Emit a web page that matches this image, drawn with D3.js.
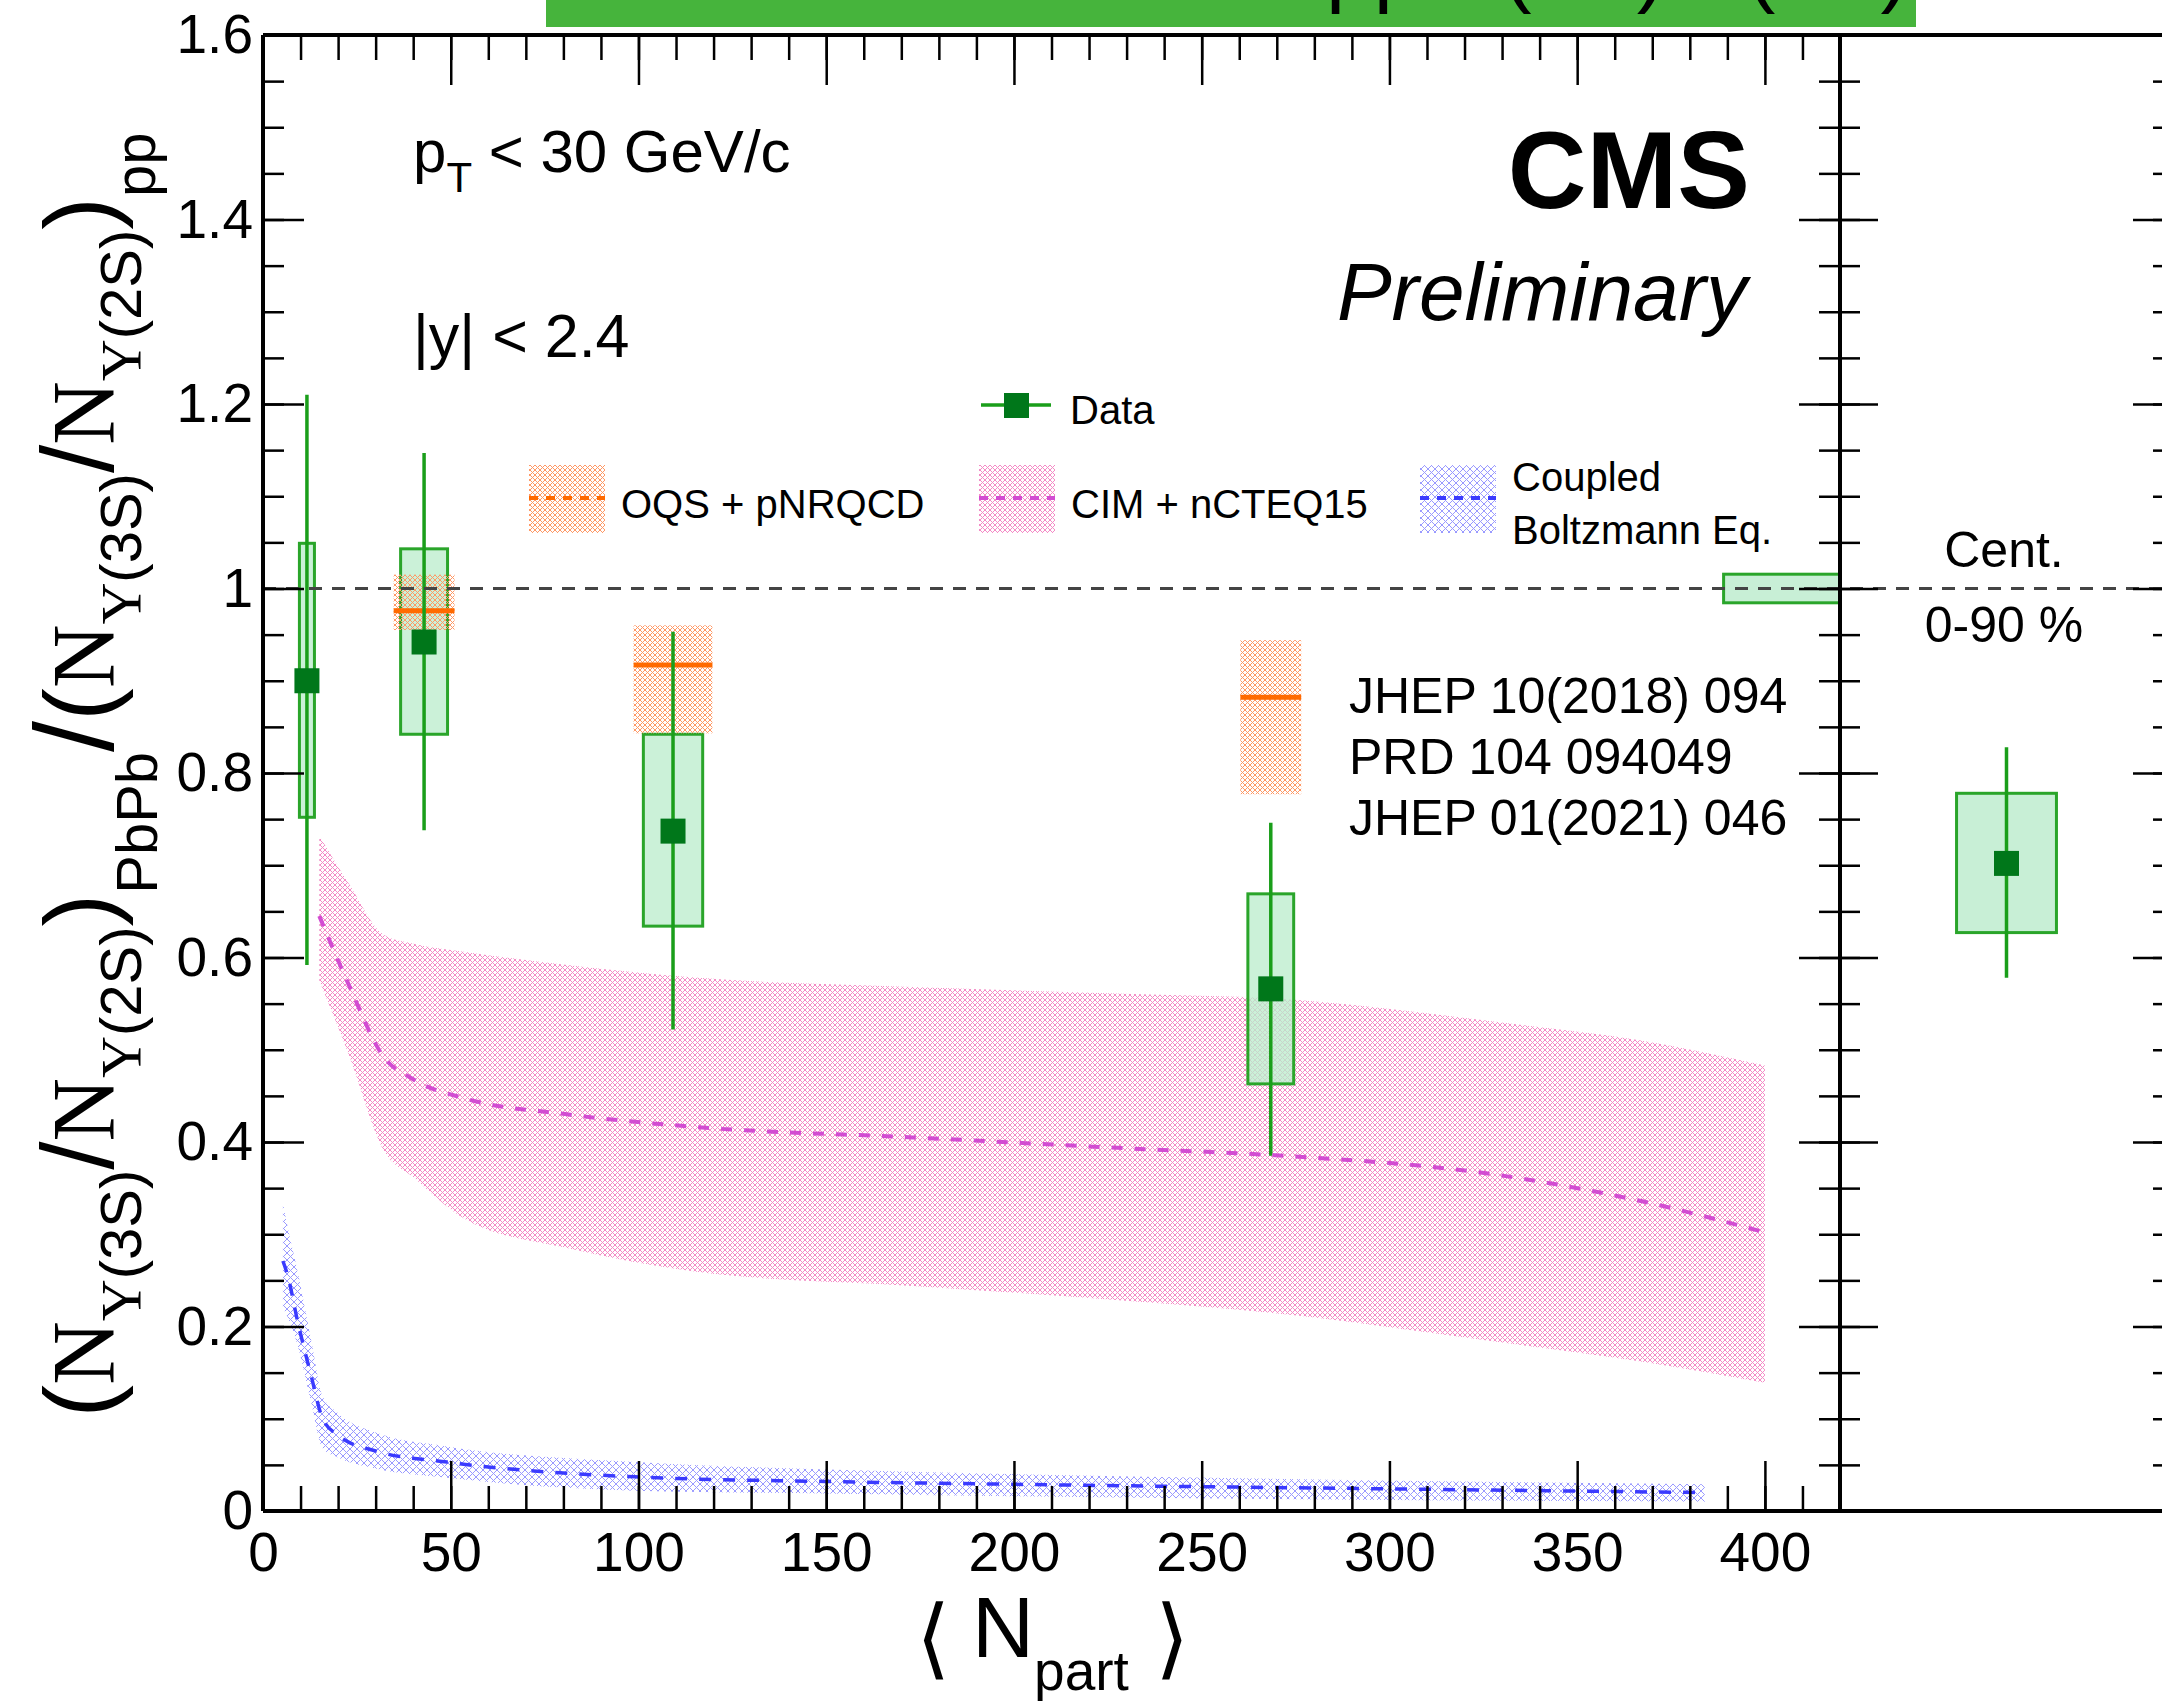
<!DOCTYPE html>
<html>
<head>
<meta charset="utf-8">
<script src="https://cdn.jsdelivr.net/npm/d3@7"></script>
<style>
body { margin: 0; background: #fff; }
svg { display: block; font-family: "Liberation Sans", Arial, Helvetica, sans-serif; }
</style>
</head>
<body>
<div id="chart-area"></div>
<script>
// measured points, <Npart> bins
const nPart = [11.7, 42.9, 109.2, 268.4]
const ratio = [0.900, 0.942, 0.737, 0.566]
const statLo = [0.592, 0.738, 0.522, 0.385]
const statHi = [1.210, 1.147, 0.953, 0.746]
const systLo = [0.752, 0.842, 0.634, 0.463]
const systHi = [1.049, 1.043, 0.842, 0.669]
const boxHalf = [2, 6.25, 7.9, 6.1]

// global uncertainty box at unity
const globRange = [389, 420]
const globLo = 0.9845
const globHi = 1.0155

// integrated 0-90 %
const intRatio = 0.702
const intStatLo = 0.578
const intStatHi = 0.828
const intSystLo = 0.627
const intSystHi = 0.778

// OQS + pNRQCD
const oqsNpart = [42.9, 109.2, 268.4]
const oqsVal = [0.976, 0.917, 0.882]
const oqsLo = [0.955, 0.843, 0.777]
const oqsHi = [1.015, 0.960, 0.944]
const oqsHalf = [8.1, 10.5, 8.1]

// CIM + nCTEQ15
const cimNpart = [15, 23, 32, 40, 54, 81, 116, 173, 236, 268, 331, 367, 400]
const cimVal = [0.645, 0.569, 0.493, 0.468, 0.447, 0.430, 0.416, 0.405, 0.392, 0.386, 0.363, 0.336, 0.302]
const cimHi = [0.732, 0.679, 0.625, 0.615, 0.606, 0.592, 0.578, 0.568, 0.560, 0.556, 0.529, 0.510, 0.483]
const cimLo = [0.575, 0.493, 0.392, 0.362, 0.316, 0.285, 0.259, 0.244, 0.226, 0.215, 0.182, 0.162, 0.139]

// Coupled Boltzmann Eq.
const cbNpart = [5.3, 6.6, 9.2, 12.8, 15.9, 20, 30, 49, 99, 150, 199, 300, 384]
const cbVal = [0.271, 0.255, 0.206, 0.147, 0.100, 0.082, 0.065, 0.053, 0.037, 0.032, 0.029, 0.024, 0.020]
const cbHi = [0.334, 0.307, 0.260, 0.186, 0.124, 0.106, 0.085, 0.070, 0.053, 0.045, 0.040, 0.033, 0.029]
const cbLo = [0.220, 0.210, 0.180, 0.118, 0.068, 0.058, 0.046, 0.036, 0.022, 0.019, 0.016, 0.012, 0.010]

const xMajor = [0, 50, 100, 150, 200, 250, 300, 350, 400]
const xMinor = d3.range(0, 421, 10)
const yMajor = [0, 0.2, 0.4, 0.6, 0.8, 1, 1.2, 1.4, 1.6]
const yMinor = d3.range(0, 33).map(i => i * 0.05)

const svg = d3.select("#chart-area").append("svg")
	.attr("width", 2162)
	.attr("height", 1701)

const x = d3.scaleLinear().domain([0, 420]).range([263, 1840])
const y = d3.scaleLinear().domain([0, 1.6]).range([1511, 35])
const xr = d3.scaleLinear().domain([0, 1]).range([1840, 2173])

// hatch patterns like ROOT fill styles
const defs = svg.append("defs")
function hatch(id, color, s, w) {
	const p = defs.append("pattern").attr("id", id)
		.attr("patternUnits", "userSpaceOnUse")
		.attr("width", s).attr("height", s)
	p.append("path")
		.attr("d", `M0,0L${s},${s}M${s},0L0,${s}M${-s/2},${s/2}L${s/2},${3*s/2}M${s/2},${-s/2}L${3*s/2},${s/2}`)
		.attr("stroke", color).attr("stroke-width", w).attr("fill", "none")
}
hatch("hPink", "#f48ac5", 5, 1)
hatch("hBlue", "#9a9aff", 7, 1)
hatch("hOrange", "#ff9865", 5, 1)

// title bar, mostly cut off at the top of the image
svg.append("rect").attr("x", 546).attr("y", 0).attr("width", 1370).attr("height", 27).attr("fill", "#46b43c")
svg.append("text").attr("x", 1326).attr("y", -4).attr("font-size", 86).attr("text-anchor", "end").text("Double ratio PbPb/")
svg.append("text").attr("x", 1326).attr("y", -4).attr("font-size", 86).text("pp \u03a5(3S)/\u03a5(2S)")

// theory bands
const band = (xs, lo, hi) => d3.area()
	.x((d, i) => x(xs[i]))
	.y0((d, i) => y(lo[i]))
	.y1((d, i) => y(hi[i]))
	.curve(d3.curveMonotoneX)(xs)
const mid = (xs, v) => d3.line()
	.x((d, i) => x(xs[i]))
	.y((d, i) => y(v[i]))
	.curve(d3.curveMonotoneX)(xs)

svg.append("path").attr("d", band(cimNpart, cimLo, cimHi)).attr("fill", "url(#hPink)")
svg.append("path").attr("d", band(cbNpart, cbLo, cbHi)).attr("fill", "url(#hBlue)")

// systematic boxes
const g = svg.append("g")
g.selectAll("rect.syst").data(nPart).enter().append("rect")
	.attr("class", "syst")
	.attr("x", (d, i) => x(d - boxHalf[i]))
	.attr("width", (d, i) => x(d + boxHalf[i]) - x(d - boxHalf[i]))
	.attr("y", (d, i) => y(systHi[i]))
	.attr("height", (d, i) => y(systLo[i]) - y(systHi[i]))
	.attr("fill", "#b9eccb").attr("fill-opacity", 0.75)
	.attr("stroke", "#2aa52a").attr("stroke-width", 3)

g.append("rect")
	.attr("x", x(globRange[0])).attr("width", x(globRange[1]) - x(globRange[0]))
	.attr("y", y(globHi)).attr("height", y(globLo) - y(globHi))
	.attr("fill", "#c8efd6").attr("stroke", "#2aa52a").attr("stroke-width", 3)

// OQS boxes and central values
g.selectAll("rect.oqs").data(oqsNpart).enter().append("rect")
	.attr("class", "oqs")
	.attr("x", (d, i) => x(d - oqsHalf[i]))
	.attr("width", (d, i) => x(d + oqsHalf[i]) - x(d - oqsHalf[i]))
	.attr("y", (d, i) => y(oqsHi[i]))
	.attr("height", (d, i) => y(oqsLo[i]) - y(oqsHi[i]))
	.attr("fill", "url(#hOrange)")
g.selectAll("line.oqs").data(oqsNpart).enter().append("line")
	.attr("class", "oqs")
	.attr("x1", (d, i) => x(d - oqsHalf[i]))
	.attr("x2", (d, i) => x(d + oqsHalf[i]))
	.attr("y1", (d, i) => y(oqsVal[i]))
	.attr("y2", (d, i) => y(oqsVal[i]))
	.attr("stroke", "#ff6a00").attr("stroke-width", 5)

// model central lines
svg.append("path").attr("d", mid(cimNpart, cimVal)).attr("fill", "none")
	.attr("stroke", "#d24cd2").attr("stroke-width", 4).attr("stroke-dasharray", "11,12")
svg.append("path").attr("d", mid(cbNpart, cbVal)).attr("fill", "none")
	.attr("stroke", "#3a3aff").attr("stroke-width", 3.5).attr("stroke-dasharray", "12,12")

// stat error bars and markers
g.selectAll("line.stat").data(nPart).enter().append("line")
	.attr("class", "stat")
	.attr("x1", d => x(d)).attr("x2", d => x(d))
	.attr("y1", (d, i) => y(statHi[i])).attr("y2", (d, i) => y(statLo[i]))
	.attr("stroke", "#1a9e1a").attr("stroke-width", 3.5)
g.selectAll("rect.pt").data(nPart).enter().append("rect")
	.attr("class", "pt")
	.attr("x", d => x(d) - 12.5).attr("y", (d, i) => y(ratio[i]) - 12.5)
	.attr("width", 25).attr("height", 25)
	.attr("fill", "#00771a")

// right panel: integrated
const rp = svg.append("g")
rp.append("rect")
	.attr("x", xr(0.35)).attr("width", xr(0.65) - xr(0.35))
	.attr("y", y(intSystHi)).attr("height", y(intSystLo) - y(intSystHi))
	.attr("fill", "#c8efd6").attr("stroke", "#2aa52a").attr("stroke-width", 3)
rp.append("line")
	.attr("x1", xr(0.5)).attr("x2", xr(0.5))
	.attr("y1", y(intStatHi)).attr("y2", y(intStatLo))
	.attr("stroke", "#1a9e1a").attr("stroke-width", 3.5)
rp.append("rect")
	.attr("x", xr(0.5) - 12.5).attr("y", y(intRatio) - 12.5)
	.attr("width", 25).attr("height", 25).attr("fill", "#00771a")

// unity line
svg.append("line")
	.attr("x1", x(0)).attr("x2", 2162).attr("y1", y(1)).attr("y2", y(1))
	.attr("stroke", "#444").attr("stroke-width", 3).attr("stroke-dasharray", "13,10")

// axes
function styleAxis(sel) {
	sel.select(".domain").remove()
	sel.selectAll(".tick line").attr("stroke", "#000").attr("stroke-width", 2.5)
	sel.selectAll("text").attr("fill", "#000").attr("font-size", 55).attr("font-family", "Liberation Sans, Arial, sans-serif")
}
const noLab = () => ""
const fmt = d3.format("~g")

svg.append("g").attr("transform", "translate(0,1511)")
	.call(d3.axisBottom(x).tickValues(xMinor).tickSize(-25).tickFormat(noLab)).call(styleAxis)
svg.append("g").attr("transform", "translate(0,1511)")
	.call(d3.axisBottom(x).tickValues(xMajor).tickSize(-50).tickPadding(21).tickFormat(fmt)).call(styleAxis)
svg.append("g").attr("transform", "translate(0,35)")
	.call(d3.axisTop(x).tickValues(xMinor).tickSize(-25).tickFormat(noLab)).call(styleAxis)
svg.append("g").attr("transform", "translate(0,35)")
	.call(d3.axisTop(x).tickValues(xMajor).tickSize(-50).tickFormat(noLab)).call(styleAxis)

svg.append("g").attr("transform", "translate(263,0)")
	.call(d3.axisLeft(y).tickValues(yMinor).tickSize(-21).tickFormat(noLab)).call(styleAxis)
svg.append("g").attr("transform", "translate(263,0)")
	.call(d3.axisLeft(y).tickValues(yMajor).tickSize(-41).tickPadding(10).tickFormat(fmt)).call(styleAxis)

// ticks on both sides of the panel divider and on the far right axis
const sides = [
	[1840, d3.axisRight, -21, -41],
	[1840, d3.axisLeft, -20, -38],
	[2173, d3.axisRight, -20, -40]
]
sides.forEach(([px, ax, mn, mj]) => {
	svg.append("g").attr("transform", `translate(${px},0)`)
		.call(ax(y).tickValues(yMinor).tickSize(mn).tickFormat(noLab)).call(styleAxis)
	svg.append("g").attr("transform", `translate(${px},0)`)
		.call(ax(y).tickValues(yMajor).tickSize(mj).tickFormat(noLab)).call(styleAxis)
})

// frame
const frame = svg.append("g").attr("stroke", "#000").attr("stroke-width", 4)
frame.append("line").attr("x1", 263).attr("x2", 2162).attr("y1", 35).attr("y2", 35)
frame.append("line").attr("x1", 263).attr("x2", 2162).attr("y1", 1511).attr("y2", 1511)
frame.append("line").attr("x1", 263).attr("x2", 263).attr("y1", 35).attr("y2", 1511)
frame.append("line").attr("x1", 1840).attr("x2", 1840).attr("y1", 35).attr("y2", 1511)

// rich text helper: segments of [text, size, shift, family]
function rich(sel, segs) {
	let cur = 0
	segs.forEach(([t, size, shift, fam]) => {
		sel.append("tspan").attr("font-size", size).attr("dy", shift - cur)
			.attr("font-family", fam || null).text(t)
		cur = shift
	})
}
const serif = "Liberation Serif, Times New Roman, serif"

// y title
const yt = svg.append("text").attr("transform", "translate(113,775) rotate(-90)")
	.attr("text-anchor", "middle").attr("fill", "#000")
const yNum = (lbl) => [["N", 88, 0, serif], ["\u03a5", 58, 28, serif], [lbl, 58, 28]]
rich(yt, [
	["(", 98, 0], ...yNum("(3S)"), ["/", 102, 0], ...yNum("(2S)"), [")", 98, 0], ["PbPb", 58, 44],
	["/", 112, 0],
	["(", 98, 0], ...yNum("(3S)"), ["/", 102, 0], ...yNum("(2S)"), [")", 98, 0], ["pp", 58, 42]
])

// x title
svg.append("text").attr("x", 933).attr("y", 1668).attr("font-size", 88).attr("text-anchor", "middle")
	.attr("font-family", "DejaVu Sans, sans-serif").attr("font-weight", 200).text("\u27e8")
const xt = svg.append("text").attr("x", 972).attr("y", 1657)
rich(xt, [["N", 86, 0], ["part", 55, 33]])
svg.append("text").attr("x", 1172).attr("y", 1668).attr("font-size", 88).attr("text-anchor", "middle")
	.attr("font-family", "DejaVu Sans, sans-serif").attr("font-weight", 200).text("\u27e9")

// labels inside the plot
const pt = svg.append("text").attr("x", 413).attr("y", 172)
rich(pt, [["p", 60, 0], ["T", 42, 20], [" < 30 GeV/c", 60, 0]])
svg.append("text").attr("x", 413).attr("y", 357).attr("font-size", 61).text("|y| < 2.4")

svg.append("text").attr("x", 1750).attr("y", 208).attr("text-anchor", "end")
	.attr("font-size", 109).attr("font-weight", "bold").text("CMS")
svg.append("text").attr("x", 1747).attr("y", 320).attr("text-anchor", "end")
	.attr("font-size", 82).attr("font-style", "italic").text("Preliminary")

const refs = ["JHEP 10(2018) 094", "PRD 104 094049", "JHEP 01(2021) 046"]
svg.selectAll("text.ref").data(refs).enter().append("text")
	.attr("class", "ref")
	.attr("x", 1349).attr("y", (d, i) => 713 + i * 61)
	.attr("font-size", 50).text(d => d)

svg.append("text").attr("x", 2004).attr("y", 567).attr("text-anchor", "middle").attr("font-size", 50).text("Cent.")
svg.append("text").attr("x", 2004).attr("y", 642).attr("text-anchor", "middle").attr("font-size", 50).text("0-90 %")

// legend
const leg = svg.append("g").attr("font-size", 40)
leg.append("line").attr("x1", 981).attr("x2", 1051).attr("y1", 405).attr("y2", 405)
	.attr("stroke", "#1a9e1a").attr("stroke-width", 3.5)
leg.append("rect").attr("x", 1004).attr("y", 393).attr("width", 25).attr("height", 25).attr("fill", "#00771a")
leg.append("text").attr("x", 1070).attr("y", 424).text("Data")

const legItems = [
	{x: 529, fill: "url(#hOrange)", line: "#ff6a00", label: ["OQS + pNRQCD"]},
	{x: 979, fill: "url(#hPink)", line: "#d24cd2", label: ["CIM + nCTEQ15"]},
	{x: 1420, fill: "url(#hBlue)", line: "#3a3aff", label: ["Coupled", "Boltzmann Eq."]}
]
legItems.forEach(it => {
	leg.append("rect").attr("x", it.x).attr("y", 465).attr("width", 76).attr("height", 68).attr("fill", it.fill)
	leg.append("line").attr("x1", it.x).attr("x2", it.x + 76).attr("y1", 498).attr("y2", 498)
		.attr("stroke", it.line).attr("stroke-width", 4).attr("stroke-dasharray", "9,8")
	it.label.forEach((l, j) => {
		leg.append("text").attr("x", it.x + 92)
			.attr("y", it.label.length === 1 ? 518 : 491 + j * 53).text(l)
	})
})
</script>
</body>
</html>
